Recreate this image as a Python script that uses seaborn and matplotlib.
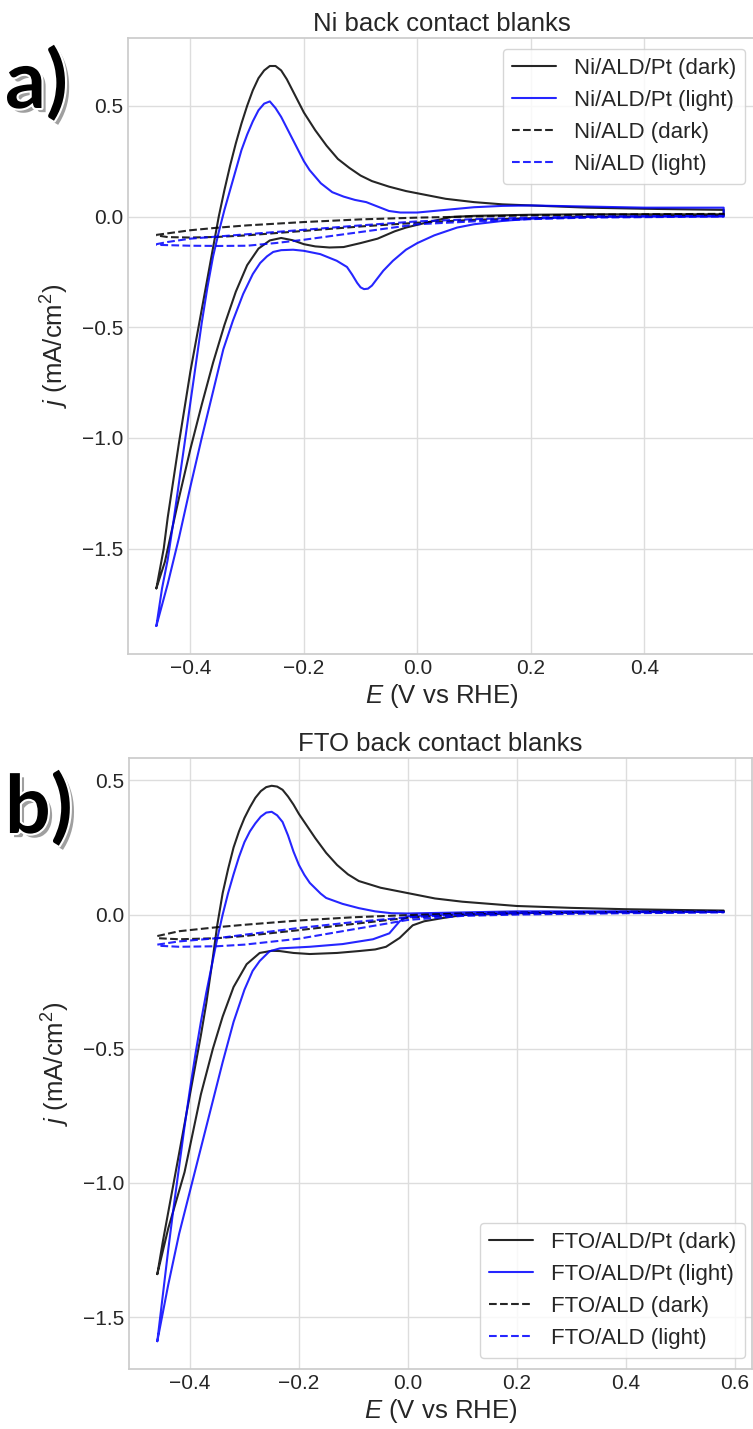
import numpy as np
import pandas as pd
import matplotlib
matplotlib.use("Agg")
import matplotlib.pyplot as plt
import matplotlib.patheffects as pe
import seaborn as sns

# ---------------- data ----------------
# Panel a) Ni back contact
ni_pt_dark_E = [-0.46, -0.447, -0.44, -0.43, -0.42, -0.41, -0.40, -0.39, -0.38, -0.37, -0.36, -0.35, -0.34,
                -0.33, -0.32, -0.31, -0.30, -0.29, -0.28, -0.27, -0.26, -0.25, -0.24, -0.23, -0.22, -0.21,
                -0.20, -0.18, -0.16, -0.14, -0.12, -0.10, -0.08, -0.05, -0.02, 0.00, 0.05, 0.10, 0.15, 0.20,
                0.30, 0.40, 0.54,
                0.54, 0.40, 0.30, 0.20, 0.10, 0.06, 0.02, -0.02, -0.04, -0.07, -0.10, -0.13, -0.155, -0.18,
                -0.20, -0.22, -0.24, -0.26, -0.28, -0.30, -0.32, -0.34, -0.36, -0.38, -0.40, -0.42, -0.433,
                -0.445, -0.46]
ni_pt_dark_j = [-1.68, -1.50, -1.36, -1.19, -1.02, -0.86, -0.70, -0.56, -0.42, -0.28, -0.14, 0.0, 0.12,
                0.23, 0.33, 0.42, 0.50, 0.57, 0.625, 0.66, 0.68, 0.68, 0.66, 0.62, 0.57, 0.52,
                0.47, 0.39, 0.32, 0.26, 0.22, 0.185, 0.16, 0.135, 0.115, 0.105, 0.08, 0.065, 0.055, 0.05,
                0.04, 0.035, 0.03,
                0.01, 0.01, 0.01, 0.008, 0.003, -0.002, -0.025, -0.05, -0.067, -0.10, -0.12, -0.138, -0.14, -0.135,
                -0.125, -0.107, -0.097, -0.108, -0.145, -0.22, -0.34, -0.49, -0.66, -0.85, -1.05, -1.27, -1.42,
                -1.56, -1.68]

ni_pt_light_E = [-0.46, -0.45, -0.44, -0.43, -0.42, -0.41, -0.40, -0.39, -0.38, -0.37, -0.36, -0.35, -0.34,
                 -0.33, -0.32, -0.31, -0.30, -0.29, -0.28, -0.27, -0.26, -0.25, -0.24, -0.23, -0.22, -0.21,
                 -0.20, -0.19, -0.17, -0.15, -0.13, -0.11, -0.09, -0.07, -0.05, -0.03, 0.0, 0.05, 0.10, 0.15,
                 0.20, 0.30, 0.40, 0.54,
                 0.54, 0.40, 0.30, 0.20, 0.15, 0.10, 0.07, 0.03, 0.0, -0.02, -0.043, -0.06, -0.072, -0.08, -0.087,
                 -0.094, -0.10, -0.106, -0.115, -0.124, -0.142, -0.171, -0.20, -0.219, -0.24, -0.254, -0.265, -0.277,
                 -0.29, -0.307, -0.325, -0.342, -0.36, -0.38, -0.40, -0.42, -0.44, -0.46]
ni_pt_light_j = [-1.85, -1.68, -1.55, -1.38, -1.20, -1.02, -0.84, -0.66, -0.48, -0.32, -0.18, -0.07, 0.03,
                 0.12, 0.21, 0.30, 0.37, 0.43, 0.48, 0.51, 0.52, 0.49, 0.45, 0.40, 0.35, 0.30,
                 0.25, 0.21, 0.15, 0.11, 0.09, 0.075, 0.065, 0.045, 0.025, 0.018, 0.018, 0.03, 0.042, 0.048,
                 0.05, 0.045, 0.04, 0.04,
                 0.0, 0.0, -0.002, -0.01, -0.02, -0.035, -0.05, -0.085, -0.12, -0.15, -0.20, -0.245, -0.285, -0.312, -0.326,
                 -0.328, -0.32, -0.30, -0.262, -0.228, -0.20, -0.17, -0.155, -0.15, -0.152, -0.16, -0.18, -0.21,
                 -0.26, -0.35, -0.47, -0.60, -0.79, -1.00, -1.22, -1.45, -1.66, -1.85]

ni_ald_dark_E = [-0.46, -0.40, -0.35, -0.30, -0.20, -0.10, 0.0, 0.10, 0.20, 0.30, 0.40, 0.54,
                 0.54, 0.40, 0.30, 0.20, 0.10, 0.0, -0.10, -0.20, -0.30, -0.35, -0.40, -0.44, -0.46]
ni_ald_dark_j = [-0.083, -0.062, -0.05, -0.04, -0.025, -0.013, -0.005, 0.0, 0.005, 0.008, 0.01, 0.012,
                 0.005, 0.0, -0.002, -0.008, -0.015, -0.028, -0.045, -0.065, -0.085, -0.092, -0.095, -0.093, -0.085]

ni_ald_light_E = [-0.46, -0.44, -0.40, -0.35, -0.30, -0.20, -0.10, 0.0, 0.10, 0.20, 0.30, 0.54,
                  0.54, 0.30, 0.20, 0.10, 0.0, -0.10, -0.20, -0.25, -0.30, -0.35, -0.40, -0.46]
ni_ald_light_j = [-0.125, -0.115, -0.10, -0.09, -0.08, -0.06, -0.04, -0.022, -0.012, -0.005, 0.0, 0.003,
                  0.0, -0.005, -0.012, -0.022, -0.035, -0.07, -0.105, -0.12, -0.132, -0.133, -0.132, -0.128]

# Panel b) FTO back contact
fto_pt_dark_E = [-0.46, -0.45, -0.44, -0.43, -0.42, -0.41, -0.40, -0.39, -0.38, -0.37, -0.36, -0.35, -0.34,
                 -0.33, -0.32, -0.31, -0.30, -0.29, -0.28, -0.27, -0.26, -0.25, -0.24, -0.23, -0.22, -0.21,
                 -0.20, -0.19, -0.17, -0.15, -0.13, -0.11, -0.09, -0.05, 0.0, 0.05, 0.10, 0.20, 0.30, 0.40,
                 0.50, 0.58,
                 0.58, 0.40, 0.20, 0.10, 0.064, 0.03, 0.009, -0.015, -0.04, -0.06, -0.09, -0.13, -0.18, -0.21,
                 -0.235, -0.25, -0.272, -0.296, -0.32, -0.34, -0.358, -0.38, -0.41, -0.44, -0.46]
fto_pt_dark_j = [-1.34, -1.22, -1.11, -1.00, -0.89, -0.78, -0.67, -0.56, -0.45, -0.33, -0.19, -0.04, 0.08,
                 0.17, 0.25, 0.31, 0.36, 0.40, 0.435, 0.46, 0.475, 0.48, 0.477, 0.465, 0.44, 0.41,
                 0.375, 0.345, 0.285, 0.23, 0.185, 0.15, 0.125, 0.10, 0.08, 0.06, 0.048, 0.032, 0.025, 0.02,
                 0.017, 0.015,
                 0.012, 0.01, 0.005, -0.002, -0.013, -0.025, -0.04, -0.087, -0.12, -0.13, -0.136, -0.143, -0.147, -0.143,
                 -0.136, -0.135, -0.143, -0.185, -0.27, -0.38, -0.50, -0.67, -0.96, -1.17, -1.34]

fto_pt_light_E = [-0.46, -0.45, -0.44, -0.43, -0.42, -0.41, -0.40, -0.39, -0.38, -0.37, -0.36, -0.35, -0.34,
                  -0.33, -0.32, -0.31, -0.30, -0.29, -0.28, -0.27, -0.26, -0.25, -0.24, -0.23, -0.22, -0.21,
                  -0.20, -0.19, -0.18, -0.16, -0.15, -0.12, -0.09, -0.06, -0.03, 0.0, 0.10, 0.20, 0.40, 0.58,
                  0.58, 0.30, 0.10, 0.0, -0.015, -0.034, -0.064, -0.12, -0.18, -0.235, -0.254, -0.272, -0.285,
                  -0.30, -0.32, -0.34, -0.36, -0.38, -0.40, -0.42, -0.44, -0.46]
fto_pt_light_j = [-1.59, -1.42, -1.25, -1.09, -0.94, -0.79, -0.65, -0.52, -0.40, -0.29, -0.19, -0.09, 0.0,
                  0.08, 0.15, 0.215, 0.27, 0.31, 0.34, 0.365, 0.38, 0.383, 0.37, 0.345, 0.295, 0.235,
                  0.185, 0.148, 0.118, 0.078, 0.062, 0.04, 0.024, 0.012, 0.005, 0.004, 0.008, 0.012, 0.012, 0.01,
                  0.01, 0.008, 0.003, -0.006, -0.025, -0.07, -0.092, -0.11, -0.12, -0.126, -0.137, -0.173, -0.21,
                  -0.28, -0.40, -0.55, -0.71, -0.87, -1.03, -1.19, -1.38, -1.59]

fto_ald_dark_E = [-0.46, -0.42, -0.35, -0.30, -0.20, -0.10, 0.0, 0.10, 0.20, 0.40, 0.58,
                  0.58, 0.40, 0.20, 0.10, 0.0, -0.10, -0.20, -0.30, -0.35, -0.42, -0.46]
fto_ald_dark_j = [-0.08, -0.062, -0.047, -0.038, -0.022, -0.01, -0.002, 0.004, 0.008, 0.01, 0.012,
                  0.01, 0.008, 0.004, 0.0, -0.012, -0.035, -0.058, -0.08, -0.088, -0.092, -0.088]

fto_ald_light_E = [-0.46, -0.42, -0.35, -0.30, -0.20, -0.10, 0.0, 0.10, 0.20, 0.40, 0.58,
                   0.58, 0.40, 0.20, 0.10, 0.0, -0.10, -0.20, -0.30, -0.35, -0.42, -0.46]
fto_ald_light_j = [-0.112, -0.10, -0.088, -0.075, -0.05, -0.028, -0.01, 0.0, 0.008, 0.01, 0.01,
                   0.008, 0.005, 0.0, -0.005, -0.02, -0.055, -0.09, -0.112, -0.118, -0.12, -0.116]

top_labels = ["Ni/ALD/Pt (dark)", "Ni/ALD/Pt (light)", "Ni/ALD (dark)", "Ni/ALD (light)"]
bottom_labels = ["FTO/ALD/Pt (dark)", "FTO/ALD/Pt (light)", "FTO/ALD (dark)", "FTO/ALD (light)"]
titles = ["Ni back contact blanks", "FTO back contact blanks"]
panel_tags = ["a)", "b)"]

# ---------------- style ----------------
sns.set_theme(style="whitegrid")
plt.rcParams["font.family"] = ["Liberation Sans", "DejaVu Sans"]
plt.rcParams["mathtext.fontset"] = "custom"
plt.rcParams["mathtext.rm"] = "Liberation Sans"
plt.rcParams["mathtext.it"] = "Liberation Sans:italic"
plt.rcParams["grid.color"] = "#dddddd"
plt.rcParams["axes.edgecolor"] = "#cccccc"

fig = plt.figure(figsize=(7.53, 14.29), dpi=100)
W, H = 753, 1429
ax_top = fig.add_axes([128 / W, 1 - 654 / H, 628 / W, (654 - 38) / H])
ax_bot = fig.add_axes([129 / W, 1 - 1369 / H, 623 / W, (1369 - 758) / H])

styles = [("#000000", "-"), ("#0000ff", "-"), ("#000000", "--"), ("#0000ff", "--")]

def draw(ax, curves, labels):
    for (E, j), lab, (c, ls) in zip(curves, labels, styles):
        sns.lineplot(x=E, y=j, sort=False, estimator=None, color=c, linestyle=ls,
                     linewidth=1.5, alpha=0.85, label=lab, ax=ax)

draw(ax_top, [(ni_pt_dark_E, ni_pt_dark_j), (ni_pt_light_E, ni_pt_light_j),
              (ni_ald_dark_E, ni_ald_dark_j), (ni_ald_light_E, ni_ald_light_j)], top_labels)
draw(ax_bot, [(fto_pt_dark_E, fto_pt_dark_j), (fto_pt_light_E, fto_pt_light_j),
              (fto_ald_dark_E, fto_ald_dark_j), (fto_ald_light_E, fto_ald_light_j)], bottom_labels)

ax_top.set_xlim(-0.51, 0.597)
ax_bot.set_xlim(-0.512, 0.632)
ax_top.set_ylim(-1.9765, 0.8065)
ax_bot.set_ylim(-1.6935, 0.5835)
ax_top.set_yticks([-1.5, -1.0, -0.5, 0.0, 0.5])
ax_bot.set_yticks([-1.5, -1.0, -0.5, 0.0, 0.5])
ax_top.set_xticks([-0.4, -0.2, 0.0, 0.2, 0.4])

text_c = "#262626"
legend_places = [dict(loc="upper right", bbox_to_anchor=(745 / W, 1 - 49 / H),
                      bbox_transform=fig.transFigure, borderaxespad=0),
                 dict(loc="lower right", bbox_to_anchor=(745 / W, 1 - 1358 / H),
                      bbox_transform=fig.transFigure, borderaxespad=0)]
for ax, title, place in [(ax_top, titles[0], legend_places[0]), (ax_bot, titles[1], legend_places[1])]:
    ax.set_title(title, fontsize=18.5, color=text_c, pad=5)
    ax.set_xlabel("$E$ (V vs RHE)", fontsize=18.5, color=text_c, labelpad=3)
    ax.set_ylabel("$j$ (mA/cm$^2$)", fontsize=18.5, color=text_c, labelpad=8)
    ax.tick_params(labelsize=15, colors=text_c, length=0)
    leg = ax.legend(fontsize=16, frameon=True, **place)
    leg.get_frame().set_edgecolor("#cccccc")
    for t in leg.get_texts():
        t.set_color(text_c)

effects = [pe.SimplePatchShadow(offset=(3, -3), shadow_rgbFace="#777777", alpha=0.7),
           pe.Stroke(linewidth=3, foreground="white"), pe.Normal()]
for tag, base in zip(panel_tags, [108, 833]):
    fig.text(5 / W, 1 - base / H, tag, fontsize=58, fontweight="bold", color="black",
             family=["Lato", "DejaVu Sans"], va="baseline", ha="left", path_effects=effects)

fig.savefig("out.png", dpi=100)
